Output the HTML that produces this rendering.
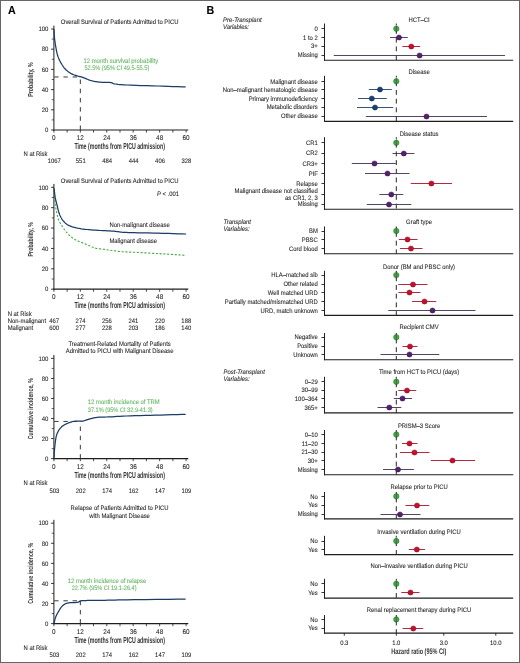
<!DOCTYPE html>
<html><head><meta charset="utf-8"><style>
html,body{margin:0;padding:0;background:#fff;}
body{width:520px;height:663px;overflow:hidden;}
svg{display:block;font-family:"Liberation Sans", sans-serif;filter:blur(0.32px);text-rendering:geometricPrecision;}
</style></head><body>
<svg width="520" height="663" viewBox="0 0 520 663">
<rect x="0" y="0" width="520" height="663" fill="#fff"/>
<text transform="translate(119.60 23.51) scale(0.92 1)" font-size="6.41" fill="#262626" stroke="#262626" stroke-width="0.08" text-anchor="middle" >Overall Survival of Patients Admitted to PICU</text>
<line x1="53.90" y1="25.60" x2="53.90" y2="130.50" stroke="#1e1e1e" stroke-width="1.0" />
<line x1="51.10" y1="130.00" x2="53.90" y2="130.00" stroke="#1e1e1e" stroke-width="0.9" />
<text transform="translate(48.40 132.24) scale(0.92 1)" font-size="6.52" fill="#262626" stroke="#262626" stroke-width="0.08" text-anchor="end" >0</text>
<line x1="51.70" y1="119.90" x2="53.90" y2="119.90" stroke="#1e1e1e" stroke-width="0.7" />
<line x1="51.10" y1="109.80" x2="53.90" y2="109.80" stroke="#1e1e1e" stroke-width="0.9" />
<text transform="translate(48.40 112.04) scale(0.92 1)" font-size="6.52" fill="#262626" stroke="#262626" stroke-width="0.08" text-anchor="end" >20</text>
<line x1="51.70" y1="99.70" x2="53.90" y2="99.70" stroke="#1e1e1e" stroke-width="0.7" />
<line x1="51.10" y1="89.60" x2="53.90" y2="89.60" stroke="#1e1e1e" stroke-width="0.9" />
<text transform="translate(48.40 91.84) scale(0.92 1)" font-size="6.52" fill="#262626" stroke="#262626" stroke-width="0.08" text-anchor="end" >40</text>
<line x1="51.70" y1="79.50" x2="53.90" y2="79.50" stroke="#1e1e1e" stroke-width="0.7" />
<line x1="51.10" y1="69.40" x2="53.90" y2="69.40" stroke="#1e1e1e" stroke-width="0.9" />
<text transform="translate(48.40 71.64) scale(0.92 1)" font-size="6.52" fill="#262626" stroke="#262626" stroke-width="0.08" text-anchor="end" >60</text>
<line x1="51.70" y1="59.30" x2="53.90" y2="59.30" stroke="#1e1e1e" stroke-width="0.7" />
<line x1="51.10" y1="49.20" x2="53.90" y2="49.20" stroke="#1e1e1e" stroke-width="0.9" />
<text transform="translate(48.40 51.44) scale(0.92 1)" font-size="6.52" fill="#262626" stroke="#262626" stroke-width="0.08" text-anchor="end" >80</text>
<line x1="51.70" y1="39.10" x2="53.90" y2="39.10" stroke="#1e1e1e" stroke-width="0.7" />
<line x1="51.10" y1="29.00" x2="53.90" y2="29.00" stroke="#1e1e1e" stroke-width="0.9" />
<text transform="translate(48.40 31.24) scale(0.92 1)" font-size="6.52" fill="#262626" stroke="#262626" stroke-width="0.08" text-anchor="end" >100</text>
<line x1="53.40" y1="130.00" x2="188.28" y2="130.00" stroke="#1e1e1e" stroke-width="1.2" />
<line x1="53.90" y1="130.00" x2="53.90" y2="132.60" stroke="#1e1e1e" stroke-width="0.8" />
<text transform="translate(53.90 140.39) scale(0.92 1)" font-size="6.96" fill="#262626" stroke="#262626" stroke-width="0.08" text-anchor="middle" >0</text>
<line x1="67.12" y1="130.00" x2="67.12" y2="132.60" stroke="#1e1e1e" stroke-width="0.8" />
<line x1="80.34" y1="130.00" x2="80.34" y2="132.60" stroke="#1e1e1e" stroke-width="0.8" />
<text transform="translate(80.34 140.39) scale(0.92 1)" font-size="6.96" fill="#262626" stroke="#262626" stroke-width="0.08" text-anchor="middle" >12</text>
<line x1="93.55" y1="130.00" x2="93.55" y2="132.60" stroke="#1e1e1e" stroke-width="0.8" />
<line x1="106.77" y1="130.00" x2="106.77" y2="132.60" stroke="#1e1e1e" stroke-width="0.8" />
<text transform="translate(106.77 140.39) scale(0.92 1)" font-size="6.96" fill="#262626" stroke="#262626" stroke-width="0.08" text-anchor="middle" >24</text>
<line x1="119.99" y1="130.00" x2="119.99" y2="132.60" stroke="#1e1e1e" stroke-width="0.8" />
<line x1="133.21" y1="130.00" x2="133.21" y2="132.60" stroke="#1e1e1e" stroke-width="0.8" />
<text transform="translate(133.21 140.39) scale(0.92 1)" font-size="6.96" fill="#262626" stroke="#262626" stroke-width="0.08" text-anchor="middle" >36</text>
<line x1="146.43" y1="130.00" x2="146.43" y2="132.60" stroke="#1e1e1e" stroke-width="0.8" />
<line x1="159.64" y1="130.00" x2="159.64" y2="132.60" stroke="#1e1e1e" stroke-width="0.8" />
<text transform="translate(159.64 140.39) scale(0.92 1)" font-size="6.96" fill="#262626" stroke="#262626" stroke-width="0.08" text-anchor="middle" >48</text>
<line x1="172.86" y1="130.00" x2="172.86" y2="132.60" stroke="#1e1e1e" stroke-width="0.8" />
<line x1="186.08" y1="130.00" x2="186.08" y2="132.60" stroke="#1e1e1e" stroke-width="0.8" />
<text transform="translate(186.08 140.39) scale(0.92 1)" font-size="6.96" fill="#262626" stroke="#262626" stroke-width="0.08" text-anchor="middle" >60</text>
<text x="119.64" y="148.86" font-size="8.6" font-weight="bold" fill="#333" text-anchor="middle" textLength="90.5" lengthAdjust="spacingAndGlyphs">Time (months from PICU admission)</text>
<text transform="translate(32.70 79.50) rotate(-90)" x="0" y="0" font-size="7.3" font-weight="bold" fill="#333" text-anchor="middle" textLength="34.4" lengthAdjust="spacingAndGlyphs">Probability, %</text>
<line x1="54.20" y1="76.97" x2="82.34" y2="76.97" stroke="#383838" stroke-width="1.0" stroke-dasharray="4.4 4.8"/>
<line x1="80.34" y1="130.00" x2="80.34" y2="76.97" stroke="#383838" stroke-width="1.0" stroke-dasharray="4.5 4.7"/>
<path d="M54.00,29.60 L54.06,30.61 L54.13,32.03 L54.23,33.69 L54.33,35.47 L54.46,37.22 L54.60,38.80 L54.76,40.21 L54.94,41.58 L55.13,42.92 L55.34,44.24 L55.56,45.56 L55.80,46.90 L56.04,48.26 L56.29,49.64 L56.54,51.02 L56.83,52.39 L57.14,53.72 L57.50,55.00 L57.89,56.22 L58.31,57.39 L58.77,58.53 L59.26,59.64 L59.80,60.76 L60.40,61.90 L61.05,63.08 L61.76,64.29 L62.52,65.49 L63.31,66.67 L64.14,67.78 L65.00,68.80 L65.90,69.73 L66.85,70.59 L67.83,71.39 L68.83,72.12 L69.83,72.79 L70.80,73.40 L71.77,73.93 L72.75,74.38 L73.72,74.76 L74.69,75.10 L75.61,75.41 L76.50,75.70 L77.34,75.96 L78.16,76.18 L78.94,76.37 L79.69,76.54 L80.41,76.71 L81.10,76.90 L81.72,77.09 L82.26,77.26 L82.78,77.43 L83.30,77.62 L83.90,77.84 L84.60,78.10 L85.43,78.43 L86.37,78.82 L87.36,79.24 L88.39,79.67 L89.41,80.06 L90.40,80.40 L91.35,80.68 L92.30,80.93 L93.25,81.16 L94.20,81.36 L95.15,81.54 L96.10,81.70 L97.06,81.85 L98.01,81.97 L98.97,82.08 L99.94,82.16 L100.91,82.24 L101.90,82.30 L102.93,82.34 L104.01,82.36 L105.09,82.37 L106.15,82.37 L107.13,82.38 L108.00,82.40 L108.73,82.43 L109.34,82.45 L109.89,82.47 L110.40,82.52 L110.92,82.59 L111.50,82.70 L112.04,82.86 L112.49,83.07 L112.94,83.31 L113.51,83.55 L114.30,83.79 L115.40,84.00 L116.67,84.18 L117.99,84.36 L119.53,84.52 L121.43,84.68 L123.87,84.84 L127.00,85.00 L131.05,85.17 L135.94,85.34 L141.36,85.51 L147.00,85.67 L152.55,85.84 L157.70,86.00 L162.79,86.17 L168.12,86.34 L173.37,86.51 L178.19,86.67 L182.25,86.80 L185.20,86.90" fill="none" stroke="#1c3b66" stroke-width="1.25" stroke-linejoin="round" stroke-linecap="round"/>
<text transform="translate(83.50 62.61) scale(0.92 1)" font-size="6.41" fill="#60b560" stroke="#60b560" stroke-width="0.08" >12 month survival probability</text>
<text transform="translate(84.40 70.01) scale(0.92 1)" font-size="6.41" fill="#60b560" stroke="#60b560" stroke-width="0.08" textLength="70.5" lengthAdjust="spacingAndGlyphs">52.5% (95% CI 49.5-55.5)</text>
<text transform="translate(23.50 156.01) scale(0.92 1)" font-size="6.41" fill="#262626" stroke="#262626" stroke-width="0.08" >N at Risk</text>
<text transform="translate(54.30 162.71) scale(0.92 1)" font-size="6.41" fill="#262626" stroke="#262626" stroke-width="0.08" text-anchor="middle" >1067</text>
<text transform="translate(80.74 162.71) scale(0.92 1)" font-size="6.41" fill="#262626" stroke="#262626" stroke-width="0.08" text-anchor="middle" >551</text>
<text transform="translate(107.17 162.71) scale(0.92 1)" font-size="6.41" fill="#262626" stroke="#262626" stroke-width="0.08" text-anchor="middle" >484</text>
<text transform="translate(133.61 162.71) scale(0.92 1)" font-size="6.41" fill="#262626" stroke="#262626" stroke-width="0.08" text-anchor="middle" >444</text>
<text transform="translate(160.04 162.71) scale(0.92 1)" font-size="6.41" fill="#262626" stroke="#262626" stroke-width="0.08" text-anchor="middle" >406</text>
<text transform="translate(186.48 162.71) scale(0.92 1)" font-size="6.41" fill="#262626" stroke="#262626" stroke-width="0.08" text-anchor="middle" >328</text>
<text transform="translate(119.60 182.51) scale(0.92 1)" font-size="6.41" fill="#262626" stroke="#262626" stroke-width="0.08" text-anchor="middle" >Overall Survival of Patients Admitted to PICU</text>
<line x1="53.90" y1="183.90" x2="53.90" y2="289.70" stroke="#1e1e1e" stroke-width="1.0" />
<line x1="51.10" y1="289.20" x2="53.90" y2="289.20" stroke="#1e1e1e" stroke-width="0.9" />
<text transform="translate(48.40 291.44) scale(0.92 1)" font-size="6.52" fill="#262626" stroke="#262626" stroke-width="0.08" text-anchor="end" >0</text>
<line x1="51.70" y1="279.01" x2="53.90" y2="279.01" stroke="#1e1e1e" stroke-width="0.7" />
<line x1="51.10" y1="268.82" x2="53.90" y2="268.82" stroke="#1e1e1e" stroke-width="0.9" />
<text transform="translate(48.40 271.06) scale(0.92 1)" font-size="6.52" fill="#262626" stroke="#262626" stroke-width="0.08" text-anchor="end" >20</text>
<line x1="51.70" y1="258.63" x2="53.90" y2="258.63" stroke="#1e1e1e" stroke-width="0.7" />
<line x1="51.10" y1="248.44" x2="53.90" y2="248.44" stroke="#1e1e1e" stroke-width="0.9" />
<text transform="translate(48.40 250.68) scale(0.92 1)" font-size="6.52" fill="#262626" stroke="#262626" stroke-width="0.08" text-anchor="end" >40</text>
<line x1="51.70" y1="238.25" x2="53.90" y2="238.25" stroke="#1e1e1e" stroke-width="0.7" />
<line x1="51.10" y1="228.06" x2="53.90" y2="228.06" stroke="#1e1e1e" stroke-width="0.9" />
<text transform="translate(48.40 230.30) scale(0.92 1)" font-size="6.52" fill="#262626" stroke="#262626" stroke-width="0.08" text-anchor="end" >60</text>
<line x1="51.70" y1="217.87" x2="53.90" y2="217.87" stroke="#1e1e1e" stroke-width="0.7" />
<line x1="51.10" y1="207.68" x2="53.90" y2="207.68" stroke="#1e1e1e" stroke-width="0.9" />
<text transform="translate(48.40 209.92) scale(0.92 1)" font-size="6.52" fill="#262626" stroke="#262626" stroke-width="0.08" text-anchor="end" >80</text>
<line x1="51.70" y1="197.49" x2="53.90" y2="197.49" stroke="#1e1e1e" stroke-width="0.7" />
<line x1="51.10" y1="187.30" x2="53.90" y2="187.30" stroke="#1e1e1e" stroke-width="0.9" />
<text transform="translate(48.40 189.54) scale(0.92 1)" font-size="6.52" fill="#262626" stroke="#262626" stroke-width="0.08" text-anchor="end" >100</text>
<line x1="53.40" y1="289.20" x2="188.28" y2="289.20" stroke="#1e1e1e" stroke-width="1.2" />
<line x1="53.90" y1="289.20" x2="53.90" y2="291.80" stroke="#1e1e1e" stroke-width="0.8" />
<text transform="translate(53.90 299.39) scale(0.92 1)" font-size="6.96" fill="#262626" stroke="#262626" stroke-width="0.08" text-anchor="middle" >0</text>
<line x1="67.12" y1="289.20" x2="67.12" y2="291.80" stroke="#1e1e1e" stroke-width="0.8" />
<line x1="80.34" y1="289.20" x2="80.34" y2="291.80" stroke="#1e1e1e" stroke-width="0.8" />
<text transform="translate(80.34 299.39) scale(0.92 1)" font-size="6.96" fill="#262626" stroke="#262626" stroke-width="0.08" text-anchor="middle" >12</text>
<line x1="93.55" y1="289.20" x2="93.55" y2="291.80" stroke="#1e1e1e" stroke-width="0.8" />
<line x1="106.77" y1="289.20" x2="106.77" y2="291.80" stroke="#1e1e1e" stroke-width="0.8" />
<text transform="translate(106.77 299.39) scale(0.92 1)" font-size="6.96" fill="#262626" stroke="#262626" stroke-width="0.08" text-anchor="middle" >24</text>
<line x1="119.99" y1="289.20" x2="119.99" y2="291.80" stroke="#1e1e1e" stroke-width="0.8" />
<line x1="133.21" y1="289.20" x2="133.21" y2="291.80" stroke="#1e1e1e" stroke-width="0.8" />
<text transform="translate(133.21 299.39) scale(0.92 1)" font-size="6.96" fill="#262626" stroke="#262626" stroke-width="0.08" text-anchor="middle" >36</text>
<line x1="146.43" y1="289.20" x2="146.43" y2="291.80" stroke="#1e1e1e" stroke-width="0.8" />
<line x1="159.64" y1="289.20" x2="159.64" y2="291.80" stroke="#1e1e1e" stroke-width="0.8" />
<text transform="translate(159.64 299.39) scale(0.92 1)" font-size="6.96" fill="#262626" stroke="#262626" stroke-width="0.08" text-anchor="middle" >48</text>
<line x1="172.86" y1="289.20" x2="172.86" y2="291.80" stroke="#1e1e1e" stroke-width="0.8" />
<line x1="186.08" y1="289.20" x2="186.08" y2="291.80" stroke="#1e1e1e" stroke-width="0.8" />
<text transform="translate(186.08 299.39) scale(0.92 1)" font-size="6.96" fill="#262626" stroke="#262626" stroke-width="0.08" text-anchor="middle" >60</text>
<text x="119.64" y="308.11" font-size="8.6" font-weight="bold" fill="#333" text-anchor="middle" textLength="90.5" lengthAdjust="spacingAndGlyphs">Time (months from PICU admission)</text>
<text transform="translate(32.70 239.20) rotate(-90)" x="0" y="0" font-size="7.3" font-weight="bold" fill="#333" text-anchor="middle" textLength="34.4" lengthAdjust="spacingAndGlyphs">Probability, %</text>
<path d="M54.00,188.50 L54.08,189.79 L54.20,191.61 L54.34,193.75 L54.49,196.00 L54.65,198.15 L54.80,200.00 L54.94,201.51 L55.07,202.84 L55.21,204.07 L55.36,205.29 L55.56,206.57 L55.80,208.00 L56.11,209.66 L56.47,211.49 L56.86,213.38 L57.28,215.24 L57.70,216.95 L58.10,218.40 L58.45,219.51 L58.75,220.35 L59.06,221.04 L59.41,221.71 L59.88,222.49 L60.50,223.50 L61.31,224.81 L62.26,226.32 L63.32,227.94 L64.45,229.57 L65.59,231.12 L66.70,232.50 L67.80,233.72 L68.93,234.85 L70.07,235.91 L71.22,236.88 L72.37,237.78 L73.50,238.60 L74.62,239.32 L75.74,239.93 L76.86,240.46 L77.97,240.95 L79.08,241.42 L80.20,241.90 L81.30,242.38 L82.38,242.82 L83.46,243.24 L84.56,243.67 L85.70,244.12 L86.90,244.60 L88.17,245.15 L89.50,245.76 L90.86,246.39 L92.25,247.00 L93.63,247.55 L95.00,248.00 L96.32,248.32 L97.60,248.55 L98.89,248.72 L100.21,248.86 L101.60,249.01 L103.10,249.20 L104.78,249.44 L106.62,249.70 L108.53,249.97 L110.43,250.23 L112.21,250.48 L113.80,250.70 L115.13,250.89 L116.26,251.06 L117.28,251.21 L118.29,251.35 L119.36,251.48 L120.60,251.60 L121.96,251.70 L123.36,251.79 L124.83,251.86 L126.41,251.93 L128.12,252.01 L130.00,252.10 L132.05,252.20 L134.23,252.30 L136.56,252.41 L139.01,252.53 L141.59,252.66 L144.30,252.80 L147.15,252.96 L150.15,253.13 L153.28,253.31 L156.51,253.50 L159.83,253.69 L163.20,253.90 L166.92,254.13 L171.06,254.40 L175.28,254.67 L179.24,254.93 L182.59,255.14 L185.00,255.30" fill="none" stroke="#45ab45" stroke-width="1.15" stroke-dasharray="2.1 1.7"/>
<path d="M54.00,188.50 L54.07,188.99 L54.16,189.66 L54.26,190.46 L54.38,191.32 L54.49,192.19 L54.60,193.00 L54.69,193.75 L54.76,194.47 L54.83,195.20 L54.92,195.96 L55.04,196.79 L55.20,197.70 L55.42,198.72 L55.69,199.84 L55.98,201.01 L56.29,202.22 L56.60,203.42 L56.90,204.60 L57.18,205.77 L57.46,206.97 L57.74,208.17 L58.02,209.34 L58.31,210.46 L58.60,211.50 L58.89,212.45 L59.18,213.33 L59.48,214.15 L59.79,214.94 L60.12,215.72 L60.50,216.50 L60.90,217.28 L61.33,218.05 L61.78,218.81 L62.26,219.55 L62.80,220.28 L63.40,221.00 L64.04,221.72 L64.71,222.45 L65.42,223.16 L66.21,223.85 L67.10,224.50 L68.10,225.10 L69.22,225.64 L70.45,226.14 L71.78,226.60 L73.18,227.03 L74.66,227.42 L76.20,227.80 L77.80,228.15 L79.47,228.47 L81.21,228.76 L83.03,229.02 L84.92,229.27 L86.90,229.50 L88.99,229.71 L91.20,229.90 L93.48,230.06 L95.80,230.21 L98.12,230.36 L100.40,230.50 L102.70,230.63 L105.07,230.74 L107.44,230.85 L109.73,230.96 L111.87,231.07 L113.80,231.20 L115.45,231.36 L116.86,231.53 L118.12,231.72 L119.33,231.90 L120.56,232.06 L121.90,232.20 L123.14,232.30 L124.17,232.37 L125.23,232.42 L126.54,232.47 L128.35,232.53 L130.90,232.60 L134.34,232.69 L138.51,232.78 L143.18,232.88 L148.10,232.98 L153.06,233.09 L157.80,233.20 L162.70,233.33 L168.03,233.48 L173.38,233.64 L178.36,233.79 L182.57,233.91 L185.60,234.00" fill="none" stroke="#1c3b66" stroke-width="1.25" stroke-linejoin="round" stroke-linecap="round"/>
<text transform="translate(109.40 226.61) scale(0.92 1)" font-size="6.41" fill="#262626" stroke="#262626" stroke-width="0.08" >Non-malignant disease</text>
<text transform="translate(109.40 243.21) scale(0.92 1)" font-size="6.41" fill="#262626" stroke="#262626" stroke-width="0.08" >Malignant disease</text>
<text transform="translate(7.70 315.51) scale(0.92 1)" font-size="6.41" fill="#262626" stroke="#262626" stroke-width="0.08" >N at Risk</text>
<text transform="translate(7.70 322.81) scale(0.92 1)" font-size="6.41" fill="#262626" stroke="#262626" stroke-width="0.08" >Non-malignant</text>
<text transform="translate(7.70 329.51) scale(0.92 1)" font-size="6.41" fill="#262626" stroke="#262626" stroke-width="0.08" >Malignant</text>
<text transform="translate(54.10 322.81) scale(0.92 1)" font-size="6.41" fill="#262626" stroke="#262626" stroke-width="0.08" text-anchor="middle" >467</text>
<text transform="translate(80.54 322.81) scale(0.92 1)" font-size="6.41" fill="#262626" stroke="#262626" stroke-width="0.08" text-anchor="middle" >274</text>
<text transform="translate(106.97 322.81) scale(0.92 1)" font-size="6.41" fill="#262626" stroke="#262626" stroke-width="0.08" text-anchor="middle" >256</text>
<text transform="translate(133.41 322.81) scale(0.92 1)" font-size="6.41" fill="#262626" stroke="#262626" stroke-width="0.08" text-anchor="middle" >241</text>
<text transform="translate(159.84 322.81) scale(0.92 1)" font-size="6.41" fill="#262626" stroke="#262626" stroke-width="0.08" text-anchor="middle" >220</text>
<text transform="translate(186.28 322.81) scale(0.92 1)" font-size="6.41" fill="#262626" stroke="#262626" stroke-width="0.08" text-anchor="middle" >188</text>
<text transform="translate(54.10 329.51) scale(0.92 1)" font-size="6.41" fill="#262626" stroke="#262626" stroke-width="0.08" text-anchor="middle" >600</text>
<text transform="translate(80.54 329.51) scale(0.92 1)" font-size="6.41" fill="#262626" stroke="#262626" stroke-width="0.08" text-anchor="middle" >277</text>
<text transform="translate(106.97 329.51) scale(0.92 1)" font-size="6.41" fill="#262626" stroke="#262626" stroke-width="0.08" text-anchor="middle" >228</text>
<text transform="translate(133.41 329.51) scale(0.92 1)" font-size="6.41" fill="#262626" stroke="#262626" stroke-width="0.08" text-anchor="middle" >203</text>
<text transform="translate(159.84 329.51) scale(0.92 1)" font-size="6.41" fill="#262626" stroke="#262626" stroke-width="0.08" text-anchor="middle" >186</text>
<text transform="translate(186.28 329.51) scale(0.92 1)" font-size="6.41" fill="#262626" stroke="#262626" stroke-width="0.08" text-anchor="middle" >140</text>
<text transform="translate(157.00 196.41) scale(0.92 1)" font-size="6.41" fill="#262626" stroke="#262626" stroke-width="0.08" ><tspan font-style="italic">P</tspan> &lt; .001</text>
<text transform="translate(119.60 345.71) scale(0.92 1)" font-size="6.41" fill="#262626" stroke="#262626" stroke-width="0.08" text-anchor="middle" >Treatment-Related Mortality of Patients</text>
<text transform="translate(119.60 352.91) scale(0.92 1)" font-size="6.41" fill="#262626" stroke="#262626" stroke-width="0.08" text-anchor="middle" >Admitted to PICU with Malignant Disease</text>
<line x1="53.90" y1="355.00" x2="53.90" y2="459.10" stroke="#1e1e1e" stroke-width="1.0" />
<line x1="51.10" y1="458.60" x2="53.90" y2="458.60" stroke="#1e1e1e" stroke-width="0.9" />
<text transform="translate(48.40 460.84) scale(0.92 1)" font-size="6.52" fill="#262626" stroke="#262626" stroke-width="0.08" text-anchor="end" >0</text>
<line x1="51.70" y1="448.58" x2="53.90" y2="448.58" stroke="#1e1e1e" stroke-width="0.7" />
<line x1="51.10" y1="438.56" x2="53.90" y2="438.56" stroke="#1e1e1e" stroke-width="0.9" />
<text transform="translate(48.40 440.80) scale(0.92 1)" font-size="6.52" fill="#262626" stroke="#262626" stroke-width="0.08" text-anchor="end" >20</text>
<line x1="51.70" y1="428.54" x2="53.90" y2="428.54" stroke="#1e1e1e" stroke-width="0.7" />
<line x1="51.10" y1="418.52" x2="53.90" y2="418.52" stroke="#1e1e1e" stroke-width="0.9" />
<text transform="translate(48.40 420.76) scale(0.92 1)" font-size="6.52" fill="#262626" stroke="#262626" stroke-width="0.08" text-anchor="end" >40</text>
<line x1="51.70" y1="408.50" x2="53.90" y2="408.50" stroke="#1e1e1e" stroke-width="0.7" />
<line x1="51.10" y1="398.48" x2="53.90" y2="398.48" stroke="#1e1e1e" stroke-width="0.9" />
<text transform="translate(48.40 400.72) scale(0.92 1)" font-size="6.52" fill="#262626" stroke="#262626" stroke-width="0.08" text-anchor="end" >60</text>
<line x1="51.70" y1="388.46" x2="53.90" y2="388.46" stroke="#1e1e1e" stroke-width="0.7" />
<line x1="51.10" y1="378.44" x2="53.90" y2="378.44" stroke="#1e1e1e" stroke-width="0.9" />
<text transform="translate(48.40 380.68) scale(0.92 1)" font-size="6.52" fill="#262626" stroke="#262626" stroke-width="0.08" text-anchor="end" >80</text>
<line x1="51.70" y1="368.42" x2="53.90" y2="368.42" stroke="#1e1e1e" stroke-width="0.7" />
<line x1="51.10" y1="358.40" x2="53.90" y2="358.40" stroke="#1e1e1e" stroke-width="0.9" />
<text transform="translate(48.40 360.64) scale(0.92 1)" font-size="6.52" fill="#262626" stroke="#262626" stroke-width="0.08" text-anchor="end" >100</text>
<line x1="53.40" y1="458.60" x2="188.28" y2="458.60" stroke="#1e1e1e" stroke-width="1.2" />
<line x1="53.90" y1="458.60" x2="53.90" y2="461.20" stroke="#1e1e1e" stroke-width="0.8" />
<text transform="translate(53.90 469.29) scale(0.92 1)" font-size="6.96" fill="#262626" stroke="#262626" stroke-width="0.08" text-anchor="middle" >0</text>
<line x1="67.12" y1="458.60" x2="67.12" y2="461.20" stroke="#1e1e1e" stroke-width="0.8" />
<line x1="80.34" y1="458.60" x2="80.34" y2="461.20" stroke="#1e1e1e" stroke-width="0.8" />
<text transform="translate(80.34 469.29) scale(0.92 1)" font-size="6.96" fill="#262626" stroke="#262626" stroke-width="0.08" text-anchor="middle" >12</text>
<line x1="93.55" y1="458.60" x2="93.55" y2="461.20" stroke="#1e1e1e" stroke-width="0.8" />
<line x1="106.77" y1="458.60" x2="106.77" y2="461.20" stroke="#1e1e1e" stroke-width="0.8" />
<text transform="translate(106.77 469.29) scale(0.92 1)" font-size="6.96" fill="#262626" stroke="#262626" stroke-width="0.08" text-anchor="middle" >24</text>
<line x1="119.99" y1="458.60" x2="119.99" y2="461.20" stroke="#1e1e1e" stroke-width="0.8" />
<line x1="133.21" y1="458.60" x2="133.21" y2="461.20" stroke="#1e1e1e" stroke-width="0.8" />
<text transform="translate(133.21 469.29) scale(0.92 1)" font-size="6.96" fill="#262626" stroke="#262626" stroke-width="0.08" text-anchor="middle" >36</text>
<line x1="146.43" y1="458.60" x2="146.43" y2="461.20" stroke="#1e1e1e" stroke-width="0.8" />
<line x1="159.64" y1="458.60" x2="159.64" y2="461.20" stroke="#1e1e1e" stroke-width="0.8" />
<text transform="translate(159.64 469.29) scale(0.92 1)" font-size="6.96" fill="#262626" stroke="#262626" stroke-width="0.08" text-anchor="middle" >48</text>
<line x1="172.86" y1="458.60" x2="172.86" y2="461.20" stroke="#1e1e1e" stroke-width="0.8" />
<line x1="186.08" y1="458.60" x2="186.08" y2="461.20" stroke="#1e1e1e" stroke-width="0.8" />
<text transform="translate(186.08 469.29) scale(0.92 1)" font-size="6.96" fill="#262626" stroke="#262626" stroke-width="0.08" text-anchor="middle" >60</text>
<text x="119.64" y="477.96" font-size="8.6" font-weight="bold" fill="#333" text-anchor="middle" textLength="90.5" lengthAdjust="spacingAndGlyphs">Time (months from PICU admission)</text>
<text transform="translate(33.30 408.70) rotate(-90)" x="0" y="0" font-size="7.3" font-weight="bold" fill="#333" text-anchor="middle" textLength="61.0" lengthAdjust="spacingAndGlyphs">Cumulative incidence, %</text>
<line x1="54.20" y1="421.43" x2="82.34" y2="421.43" stroke="#383838" stroke-width="1.0" stroke-dasharray="4.4 4.8"/>
<line x1="80.34" y1="458.60" x2="80.34" y2="421.43" stroke="#383838" stroke-width="1.0" stroke-dasharray="4.5 4.7"/>
<path d="M54.00,458.60 L54.04,457.79 L54.09,456.68 L54.15,455.36 L54.22,453.92 L54.31,452.47 L54.40,451.10 L54.51,449.77 L54.63,448.40 L54.76,447.01 L54.90,445.63 L55.04,444.29 L55.20,443.00 L55.36,441.75 L55.52,440.53 L55.69,439.33 L55.87,438.19 L56.07,437.10 L56.30,436.10 L56.55,435.19 L56.83,434.35 L57.12,433.58 L57.44,432.86 L57.76,432.17 L58.10,431.50 L58.44,430.86 L58.79,430.26 L59.15,429.69 L59.53,429.15 L59.95,428.62 L60.40,428.10 L60.89,427.58 L61.40,427.07 L61.95,426.58 L62.53,426.10 L63.15,425.64 L63.80,425.20 L64.51,424.77 L65.27,424.36 L66.08,423.96 L66.89,423.58 L67.71,423.22 L68.50,422.90 L69.27,422.60 L70.04,422.33 L70.81,422.08 L71.57,421.86 L72.33,421.67 L73.10,421.50 L73.87,421.37 L74.63,421.28 L75.40,421.21 L76.17,421.17 L76.93,421.13 L77.70,421.10 L78.49,421.08 L79.32,421.09 L80.14,421.11 L80.94,421.12 L81.67,421.12 L82.30,421.10 L82.79,421.06 L83.15,421.01 L83.45,420.94 L83.75,420.86 L84.11,420.75 L84.60,420.60 L85.22,420.41 L85.92,420.17 L86.68,419.91 L87.49,419.63 L88.34,419.36 L89.20,419.10 L90.10,418.85 L91.04,418.60 L92.03,418.34 L93.02,418.10 L94.02,417.89 L95.00,417.70 L95.93,417.55 L96.81,417.43 L97.69,417.32 L98.61,417.24 L99.64,417.17 L100.80,417.10 L102.05,417.05 L103.34,417.03 L104.73,417.02 L106.27,417.00 L108.00,416.97 L110.00,416.90 L112.19,416.79 L114.50,416.65 L117.03,416.49 L119.82,416.32 L122.95,416.15 L126.50,416.00 L130.58,415.86 L135.15,415.73 L140.06,415.60 L145.16,415.47 L150.29,415.34 L155.30,415.20 L160.57,415.05 L166.29,414.87 L172.05,414.70 L177.41,414.54 L181.93,414.40 L185.20,414.30" fill="none" stroke="#1c3b66" stroke-width="1.25" stroke-linejoin="round" stroke-linecap="round"/>
<text transform="translate(87.80 404.21) scale(0.92 1)" font-size="6.41" fill="#60b560" stroke="#60b560" stroke-width="0.08" >12 month incidence of TRM</text>
<text transform="translate(87.80 411.61) scale(0.92 1)" font-size="6.41" fill="#60b560" stroke="#60b560" stroke-width="0.08" textLength="70.5" lengthAdjust="spacingAndGlyphs">37.1% (95% CI 32.9-41.3)</text>
<text transform="translate(23.50 485.11) scale(0.92 1)" font-size="6.41" fill="#262626" stroke="#262626" stroke-width="0.08" >N at Risk</text>
<text transform="translate(54.30 492.51) scale(0.92 1)" font-size="6.41" fill="#262626" stroke="#262626" stroke-width="0.08" text-anchor="middle" >503</text>
<text transform="translate(80.74 492.51) scale(0.92 1)" font-size="6.41" fill="#262626" stroke="#262626" stroke-width="0.08" text-anchor="middle" >202</text>
<text transform="translate(107.17 492.51) scale(0.92 1)" font-size="6.41" fill="#262626" stroke="#262626" stroke-width="0.08" text-anchor="middle" >174</text>
<text transform="translate(133.61 492.51) scale(0.92 1)" font-size="6.41" fill="#262626" stroke="#262626" stroke-width="0.08" text-anchor="middle" >162</text>
<text transform="translate(160.04 492.51) scale(0.92 1)" font-size="6.41" fill="#262626" stroke="#262626" stroke-width="0.08" text-anchor="middle" >147</text>
<text transform="translate(186.48 492.51) scale(0.92 1)" font-size="6.41" fill="#262626" stroke="#262626" stroke-width="0.08" text-anchor="middle" >109</text>
<text transform="translate(119.60 509.71) scale(0.92 1)" font-size="6.41" fill="#262626" stroke="#262626" stroke-width="0.08" text-anchor="middle" >Relapse of Patients Admitted to PICU</text>
<text transform="translate(119.60 517.61) scale(0.92 1)" font-size="6.41" fill="#262626" stroke="#262626" stroke-width="0.08" text-anchor="middle" >with Malignant Disease</text>
<line x1="53.90" y1="519.80" x2="53.90" y2="624.10" stroke="#1e1e1e" stroke-width="1.0" />
<line x1="51.10" y1="623.60" x2="53.90" y2="623.60" stroke="#1e1e1e" stroke-width="0.9" />
<text transform="translate(48.40 625.84) scale(0.92 1)" font-size="6.52" fill="#262626" stroke="#262626" stroke-width="0.08" text-anchor="end" >0</text>
<line x1="51.70" y1="613.56" x2="53.90" y2="613.56" stroke="#1e1e1e" stroke-width="0.7" />
<line x1="51.10" y1="603.52" x2="53.90" y2="603.52" stroke="#1e1e1e" stroke-width="0.9" />
<text transform="translate(48.40 605.76) scale(0.92 1)" font-size="6.52" fill="#262626" stroke="#262626" stroke-width="0.08" text-anchor="end" >20</text>
<line x1="51.70" y1="593.48" x2="53.90" y2="593.48" stroke="#1e1e1e" stroke-width="0.7" />
<line x1="51.10" y1="583.44" x2="53.90" y2="583.44" stroke="#1e1e1e" stroke-width="0.9" />
<text transform="translate(48.40 585.68) scale(0.92 1)" font-size="6.52" fill="#262626" stroke="#262626" stroke-width="0.08" text-anchor="end" >40</text>
<line x1="51.70" y1="573.40" x2="53.90" y2="573.40" stroke="#1e1e1e" stroke-width="0.7" />
<line x1="51.10" y1="563.36" x2="53.90" y2="563.36" stroke="#1e1e1e" stroke-width="0.9" />
<text transform="translate(48.40 565.60) scale(0.92 1)" font-size="6.52" fill="#262626" stroke="#262626" stroke-width="0.08" text-anchor="end" >60</text>
<line x1="51.70" y1="553.32" x2="53.90" y2="553.32" stroke="#1e1e1e" stroke-width="0.7" />
<line x1="51.10" y1="543.28" x2="53.90" y2="543.28" stroke="#1e1e1e" stroke-width="0.9" />
<text transform="translate(48.40 545.52) scale(0.92 1)" font-size="6.52" fill="#262626" stroke="#262626" stroke-width="0.08" text-anchor="end" >80</text>
<line x1="51.70" y1="533.24" x2="53.90" y2="533.24" stroke="#1e1e1e" stroke-width="0.7" />
<line x1="51.10" y1="523.20" x2="53.90" y2="523.20" stroke="#1e1e1e" stroke-width="0.9" />
<text transform="translate(48.40 525.44) scale(0.92 1)" font-size="6.52" fill="#262626" stroke="#262626" stroke-width="0.08" text-anchor="end" >100</text>
<line x1="53.40" y1="623.60" x2="188.28" y2="623.60" stroke="#1e1e1e" stroke-width="1.2" />
<line x1="53.90" y1="623.60" x2="53.90" y2="626.20" stroke="#1e1e1e" stroke-width="0.8" />
<text transform="translate(53.90 634.29) scale(0.92 1)" font-size="6.96" fill="#262626" stroke="#262626" stroke-width="0.08" text-anchor="middle" >0</text>
<line x1="67.12" y1="623.60" x2="67.12" y2="626.20" stroke="#1e1e1e" stroke-width="0.8" />
<line x1="80.34" y1="623.60" x2="80.34" y2="626.20" stroke="#1e1e1e" stroke-width="0.8" />
<text transform="translate(80.34 634.29) scale(0.92 1)" font-size="6.96" fill="#262626" stroke="#262626" stroke-width="0.08" text-anchor="middle" >12</text>
<line x1="93.55" y1="623.60" x2="93.55" y2="626.20" stroke="#1e1e1e" stroke-width="0.8" />
<line x1="106.77" y1="623.60" x2="106.77" y2="626.20" stroke="#1e1e1e" stroke-width="0.8" />
<text transform="translate(106.77 634.29) scale(0.92 1)" font-size="6.96" fill="#262626" stroke="#262626" stroke-width="0.08" text-anchor="middle" >24</text>
<line x1="119.99" y1="623.60" x2="119.99" y2="626.20" stroke="#1e1e1e" stroke-width="0.8" />
<line x1="133.21" y1="623.60" x2="133.21" y2="626.20" stroke="#1e1e1e" stroke-width="0.8" />
<text transform="translate(133.21 634.29) scale(0.92 1)" font-size="6.96" fill="#262626" stroke="#262626" stroke-width="0.08" text-anchor="middle" >36</text>
<line x1="146.43" y1="623.60" x2="146.43" y2="626.20" stroke="#1e1e1e" stroke-width="0.8" />
<line x1="159.64" y1="623.60" x2="159.64" y2="626.20" stroke="#1e1e1e" stroke-width="0.8" />
<text transform="translate(159.64 634.29) scale(0.92 1)" font-size="6.96" fill="#262626" stroke="#262626" stroke-width="0.08" text-anchor="middle" >48</text>
<line x1="172.86" y1="623.60" x2="172.86" y2="626.20" stroke="#1e1e1e" stroke-width="0.8" />
<line x1="186.08" y1="623.60" x2="186.08" y2="626.20" stroke="#1e1e1e" stroke-width="0.8" />
<text transform="translate(186.08 634.29) scale(0.92 1)" font-size="6.96" fill="#262626" stroke="#262626" stroke-width="0.08" text-anchor="middle" >60</text>
<text x="119.64" y="642.56" font-size="8.6" font-weight="bold" fill="#333" text-anchor="middle" textLength="90.5" lengthAdjust="spacingAndGlyphs">Time (months from PICU admission)</text>
<text transform="translate(33.30 573.30) rotate(-90)" x="0" y="0" font-size="7.3" font-weight="bold" fill="#333" text-anchor="middle" textLength="61.0" lengthAdjust="spacingAndGlyphs">Cumulative incidence, %</text>
<line x1="54.20" y1="600.81" x2="82.34" y2="600.81" stroke="#383838" stroke-width="1.0" stroke-dasharray="4.4 4.8"/>
<line x1="80.34" y1="623.60" x2="80.34" y2="600.81" stroke="#383838" stroke-width="1.0" stroke-dasharray="4.5 4.7"/>
<path d="M54.00,623.60 L54.12,623.02 L54.29,622.21 L54.49,621.25 L54.72,620.24 L54.96,619.26 L55.20,618.40 L55.45,617.66 L55.71,616.98 L55.98,616.32 L56.27,615.69 L56.58,615.05 L56.90,614.40 L57.25,613.73 L57.62,613.05 L58.01,612.37 L58.41,611.70 L58.81,611.04 L59.20,610.40 L59.57,609.78 L59.92,609.17 L60.28,608.58 L60.64,608.00 L61.05,607.44 L61.50,606.90 L62.01,606.36 L62.58,605.82 L63.17,605.30 L63.79,604.81 L64.40,604.37 L65.00,604.00 L65.57,603.70 L66.13,603.47 L66.68,603.29 L67.25,603.14 L67.85,603.02 L68.50,602.90 L69.20,602.80 L69.95,602.74 L70.73,602.70 L71.53,602.67 L72.32,602.64 L73.10,602.60 L73.89,602.56 L74.70,602.54 L75.51,602.52 L76.29,602.48 L77.03,602.41 L77.70,602.30 L78.27,602.12 L78.75,601.87 L79.19,601.60 L79.61,601.33 L80.07,601.08 L80.60,600.90 L81.12,600.79 L81.57,600.72 L82.06,600.68 L82.67,600.66 L83.49,600.64 L84.60,600.60 L86.05,600.55 L87.79,600.49 L89.73,600.44 L91.81,600.39 L93.96,600.34 L96.10,600.30 L98.25,600.28 L100.46,600.26 L102.74,600.26 L105.09,600.25 L107.51,600.23 L110.00,600.20 L112.11,600.15 L113.74,600.10 L115.45,600.04 L117.78,599.97 L121.28,599.89 L126.50,599.80 L134.52,599.69 L145.11,599.56 L156.88,599.42 L168.42,599.29 L178.33,599.18 L185.20,599.10" fill="none" stroke="#1c3b66" stroke-width="1.25" stroke-linejoin="round" stroke-linecap="round"/>
<text transform="translate(67.70 583.11) scale(0.92 1)" font-size="6.41" fill="#60b560" stroke="#60b560" stroke-width="0.08" >12 month incidence of relapse</text>
<text transform="translate(71.70 590.31) scale(0.92 1)" font-size="6.41" fill="#60b560" stroke="#60b560" stroke-width="0.08" textLength="70.5" lengthAdjust="spacingAndGlyphs">22.7% (95% CI 19.1-26.4)</text>
<text transform="translate(23.50 650.01) scale(0.92 1)" font-size="6.41" fill="#262626" stroke="#262626" stroke-width="0.08" >N at Risk</text>
<text transform="translate(54.30 656.81) scale(0.92 1)" font-size="6.41" fill="#262626" stroke="#262626" stroke-width="0.08" text-anchor="middle" >503</text>
<text transform="translate(80.74 656.81) scale(0.92 1)" font-size="6.41" fill="#262626" stroke="#262626" stroke-width="0.08" text-anchor="middle" >202</text>
<text transform="translate(107.17 656.81) scale(0.92 1)" font-size="6.41" fill="#262626" stroke="#262626" stroke-width="0.08" text-anchor="middle" >174</text>
<text transform="translate(133.61 656.81) scale(0.92 1)" font-size="6.41" fill="#262626" stroke="#262626" stroke-width="0.08" text-anchor="middle" >162</text>
<text transform="translate(160.04 656.81) scale(0.92 1)" font-size="6.41" fill="#262626" stroke="#262626" stroke-width="0.08" text-anchor="middle" >147</text>
<text transform="translate(186.48 656.81) scale(0.92 1)" font-size="6.41" fill="#262626" stroke="#262626" stroke-width="0.08" text-anchor="middle" >109</text>
<text transform="translate(8.00 14.00) scale(0.92 1)" font-size="11.63" fill="#000" stroke="#000" stroke-width="0.08" font-weight="bold" >A</text>
<text transform="translate(206.60 14.10) scale(0.92 1)" font-size="11.63" fill="#000" stroke="#000" stroke-width="0.08" font-weight="bold" >B</text>
<text transform="translate(419.05 22.41) scale(0.92 1)" font-size="6.41" fill="#262626" stroke="#262626" stroke-width="0.08" text-anchor="middle" >HCT–CI</text>
<line x1="396.30" y1="23.50" x2="396.30" y2="60.30" stroke="#262626" stroke-width="1.0" stroke-dasharray="4.9 3.8" stroke-dashoffset="3.2"/>
<line x1="324.50" y1="23.50" x2="324.50" y2="60.80" stroke="#1e1e1e" stroke-width="1.0" />
<line x1="324.00" y1="60.30" x2="513.20" y2="60.30" stroke="#1e1e1e" stroke-width="1.1" />
<line x1="321.50" y1="28.50" x2="324.50" y2="28.50" stroke="#1e1e1e" stroke-width="0.9" />
<text transform="translate(317.80 31.01) scale(0.92 1)" font-size="6.41" fill="#262626" stroke="#262626" stroke-width="0.08" text-anchor="end" >0</text>
<circle cx="396.30" cy="28.80" r="2.7" fill="#48a848" stroke="#2a6e2a" stroke-width="0.55"/>
<line x1="396.30" y1="25.20" x2="396.30" y2="32.40" stroke="#1e3a1e" stroke-width="0.9" stroke-opacity="0.55"/>
<line x1="321.50" y1="37.50" x2="324.50" y2="37.50" stroke="#1e1e1e" stroke-width="0.9" />
<text transform="translate(317.80 39.71) scale(0.92 1)" font-size="6.41" fill="#262626" stroke="#262626" stroke-width="0.08" text-anchor="end" >1 to 2</text>
<line x1="390.00" y1="37.50" x2="407.80" y2="37.50" stroke="#4d3a5c" stroke-width="0.95" />
<circle cx="399.00" cy="37.50" r="2.6" fill="#52226a" stroke="#3a1550" stroke-width="0.45"/>
<line x1="321.50" y1="46.50" x2="324.50" y2="46.50" stroke="#1e1e1e" stroke-width="0.9" />
<text transform="translate(317.80 48.46) scale(0.92 1)" font-size="6.41" fill="#262626" stroke="#262626" stroke-width="0.08" text-anchor="end" >3+</text>
<line x1="402.40" y1="46.50" x2="420.20" y2="46.50" stroke="#b01e36" stroke-width="0.95" />
<circle cx="411.30" cy="46.50" r="2.6" fill="#c0112d" stroke="#8e0a20" stroke-width="0.45"/>
<line x1="321.50" y1="55.50" x2="324.50" y2="55.50" stroke="#1e1e1e" stroke-width="0.9" />
<text transform="translate(317.80 57.21) scale(0.92 1)" font-size="6.41" fill="#262626" stroke="#262626" stroke-width="0.08" text-anchor="end" >Missing</text>
<line x1="333.80" y1="55.50" x2="505.00" y2="55.50" stroke="#4d3a5c" stroke-width="0.95" />
<circle cx="419.60" cy="55.50" r="2.6" fill="#52226a" stroke="#3a1550" stroke-width="0.45"/>
<text transform="translate(419.05 73.51) scale(0.92 1)" font-size="6.41" fill="#262626" stroke="#262626" stroke-width="0.08" text-anchor="middle" >Disease</text>
<line x1="396.30" y1="75.80" x2="396.30" y2="121.40" stroke="#262626" stroke-width="1.0" stroke-dasharray="4.9 3.8" stroke-dashoffset="3.2"/>
<line x1="324.50" y1="75.80" x2="324.50" y2="121.90" stroke="#1e1e1e" stroke-width="1.0" />
<line x1="324.00" y1="121.40" x2="513.20" y2="121.40" stroke="#1e1e1e" stroke-width="1.1" />
<line x1="321.50" y1="81.50" x2="324.50" y2="81.50" stroke="#1e1e1e" stroke-width="0.9" />
<text transform="translate(317.80 83.51) scale(0.92 1)" font-size="6.41" fill="#262626" stroke="#262626" stroke-width="0.08" text-anchor="end" >Malignant disease</text>
<circle cx="396.30" cy="81.30" r="2.7" fill="#48a848" stroke="#2a6e2a" stroke-width="0.55"/>
<line x1="396.30" y1="77.70" x2="396.30" y2="84.90" stroke="#1e3a1e" stroke-width="0.9" stroke-opacity="0.55"/>
<line x1="321.50" y1="89.50" x2="324.50" y2="89.50" stroke="#1e1e1e" stroke-width="0.9" />
<text transform="translate(317.80 92.01) scale(0.92 1)" font-size="6.41" fill="#262626" stroke="#262626" stroke-width="0.08" text-anchor="end" >Non–malignant hematologic disease</text>
<line x1="368.80" y1="89.50" x2="391.80" y2="89.50" stroke="#2c4a70" stroke-width="0.95" />
<circle cx="380.00" cy="89.50" r="2.6" fill="#1a3f72" stroke="#12305a" stroke-width="0.45"/>
<line x1="321.50" y1="98.50" x2="324.50" y2="98.50" stroke="#1e1e1e" stroke-width="0.9" />
<text transform="translate(317.80 100.71) scale(0.92 1)" font-size="6.41" fill="#262626" stroke="#262626" stroke-width="0.08" text-anchor="end" >Primary immunodeficiency</text>
<line x1="358.00" y1="98.50" x2="386.80" y2="98.50" stroke="#2c4a70" stroke-width="0.95" />
<circle cx="371.80" cy="98.50" r="2.6" fill="#1a3f72" stroke="#12305a" stroke-width="0.45"/>
<line x1="321.50" y1="107.50" x2="324.50" y2="107.50" stroke="#1e1e1e" stroke-width="0.9" />
<text transform="translate(317.80 109.31) scale(0.92 1)" font-size="6.41" fill="#262626" stroke="#262626" stroke-width="0.08" text-anchor="end" >Metabolic disorders</text>
<line x1="357.00" y1="107.50" x2="393.30" y2="107.50" stroke="#2c4a70" stroke-width="0.95" />
<circle cx="375.00" cy="107.50" r="2.6" fill="#1a3f72" stroke="#12305a" stroke-width="0.45"/>
<line x1="321.50" y1="116.50" x2="324.50" y2="116.50" stroke="#1e1e1e" stroke-width="0.9" />
<text transform="translate(317.80 118.31) scale(0.92 1)" font-size="6.41" fill="#262626" stroke="#262626" stroke-width="0.08" text-anchor="end" >Other disease</text>
<line x1="365.80" y1="116.50" x2="487.00" y2="116.50" stroke="#4d3a5c" stroke-width="0.95" />
<circle cx="426.50" cy="116.50" r="2.6" fill="#52226a" stroke="#3a1550" stroke-width="0.45"/>
<text transform="translate(419.05 136.01) scale(0.92 1)" font-size="6.41" fill="#262626" stroke="#262626" stroke-width="0.08" text-anchor="middle" >Disease status</text>
<line x1="396.30" y1="137.20" x2="396.30" y2="209.30" stroke="#262626" stroke-width="1.0" stroke-dasharray="4.9 3.8" stroke-dashoffset="3.2"/>
<line x1="324.50" y1="137.20" x2="324.50" y2="209.80" stroke="#1e1e1e" stroke-width="1.0" />
<line x1="324.00" y1="209.30" x2="513.20" y2="209.30" stroke="#1e1e1e" stroke-width="1.1" />
<line x1="321.50" y1="142.50" x2="324.50" y2="142.50" stroke="#1e1e1e" stroke-width="0.9" />
<text transform="translate(317.80 145.01) scale(0.92 1)" font-size="6.41" fill="#262626" stroke="#262626" stroke-width="0.08" text-anchor="end" >CR1</text>
<circle cx="396.30" cy="142.80" r="2.7" fill="#48a848" stroke="#2a6e2a" stroke-width="0.55"/>
<line x1="396.30" y1="139.20" x2="396.30" y2="146.40" stroke="#1e3a1e" stroke-width="0.9" stroke-opacity="0.55"/>
<line x1="321.50" y1="153.50" x2="324.50" y2="153.50" stroke="#1e1e1e" stroke-width="0.9" />
<text transform="translate(317.80 155.21) scale(0.92 1)" font-size="6.41" fill="#262626" stroke="#262626" stroke-width="0.08" text-anchor="end" >CR2</text>
<line x1="392.50" y1="153.50" x2="414.50" y2="153.50" stroke="#4d3a5c" stroke-width="0.95" />
<circle cx="403.80" cy="153.50" r="2.6" fill="#52226a" stroke="#3a1550" stroke-width="0.45"/>
<line x1="321.50" y1="163.50" x2="324.50" y2="163.50" stroke="#1e1e1e" stroke-width="0.9" />
<text transform="translate(317.80 165.51) scale(0.92 1)" font-size="6.41" fill="#262626" stroke="#262626" stroke-width="0.08" text-anchor="end" >CR3+</text>
<line x1="351.80" y1="163.50" x2="395.80" y2="163.50" stroke="#4d3a5c" stroke-width="0.95" />
<circle cx="374.50" cy="163.50" r="2.6" fill="#52226a" stroke="#3a1550" stroke-width="0.45"/>
<line x1="321.50" y1="173.50" x2="324.50" y2="173.50" stroke="#1e1e1e" stroke-width="0.9" />
<text transform="translate(317.80 175.51) scale(0.92 1)" font-size="6.41" fill="#262626" stroke="#262626" stroke-width="0.08" text-anchor="end" >PIF</text>
<line x1="365.00" y1="173.50" x2="409.50" y2="173.50" stroke="#4d3a5c" stroke-width="0.95" />
<circle cx="387.50" cy="173.50" r="2.6" fill="#52226a" stroke="#3a1550" stroke-width="0.45"/>
<line x1="321.50" y1="183.50" x2="324.50" y2="183.50" stroke="#1e1e1e" stroke-width="0.9" />
<text transform="translate(317.80 186.01) scale(0.92 1)" font-size="6.41" fill="#262626" stroke="#262626" stroke-width="0.08" text-anchor="end" >Relapse</text>
<line x1="410.80" y1="183.50" x2="452.00" y2="183.50" stroke="#b01e36" stroke-width="0.95" />
<circle cx="431.40" cy="183.50" r="2.6" fill="#c0112d" stroke="#8e0a20" stroke-width="0.45"/>
<line x1="321.50" y1="194.50" x2="324.50" y2="194.50" stroke="#1e1e1e" stroke-width="0.9" />
<text transform="translate(317.80 192.86) scale(0.92 1)" font-size="6.41" fill="#262626" stroke="#262626" stroke-width="0.08" text-anchor="end" >Malignant disease not classified</text>
<text transform="translate(317.80 199.56) scale(0.92 1)" font-size="6.41" fill="#262626" stroke="#262626" stroke-width="0.08" text-anchor="end" >as CR1, 2, 3</text>
<line x1="379.30" y1="194.50" x2="403.30" y2="194.50" stroke="#4d3a5c" stroke-width="0.95" />
<circle cx="391.30" cy="194.50" r="2.6" fill="#52226a" stroke="#3a1550" stroke-width="0.45"/>
<line x1="321.50" y1="204.50" x2="324.50" y2="204.50" stroke="#1e1e1e" stroke-width="0.9" />
<text transform="translate(317.80 206.41) scale(0.92 1)" font-size="6.41" fill="#262626" stroke="#262626" stroke-width="0.08" text-anchor="end" >Missing</text>
<line x1="366.80" y1="204.50" x2="411.30" y2="204.50" stroke="#4d3a5c" stroke-width="0.95" />
<circle cx="389.00" cy="204.50" r="2.6" fill="#52226a" stroke="#3a1550" stroke-width="0.45"/>
<text transform="translate(419.05 224.21) scale(0.92 1)" font-size="6.41" fill="#262626" stroke="#262626" stroke-width="0.08" text-anchor="middle" >Graft type</text>
<line x1="396.30" y1="226.50" x2="396.30" y2="253.70" stroke="#262626" stroke-width="1.0" stroke-dasharray="4.9 3.8" stroke-dashoffset="3.2"/>
<line x1="324.50" y1="226.50" x2="324.50" y2="254.20" stroke="#1e1e1e" stroke-width="1.0" />
<line x1="324.00" y1="253.70" x2="513.20" y2="253.70" stroke="#1e1e1e" stroke-width="1.1" />
<line x1="321.50" y1="231.50" x2="324.50" y2="231.50" stroke="#1e1e1e" stroke-width="0.9" />
<text transform="translate(317.80 233.21) scale(0.92 1)" font-size="6.41" fill="#262626" stroke="#262626" stroke-width="0.08" text-anchor="end" >BM</text>
<circle cx="396.30" cy="231.00" r="2.7" fill="#48a848" stroke="#2a6e2a" stroke-width="0.55"/>
<line x1="396.30" y1="227.40" x2="396.30" y2="234.60" stroke="#1e3a1e" stroke-width="0.9" stroke-opacity="0.55"/>
<line x1="321.50" y1="239.50" x2="324.50" y2="239.50" stroke="#1e1e1e" stroke-width="0.9" />
<text transform="translate(317.80 242.01) scale(0.92 1)" font-size="6.41" fill="#262626" stroke="#262626" stroke-width="0.08" text-anchor="end" >PBSC</text>
<line x1="398.80" y1="239.50" x2="417.50" y2="239.50" stroke="#b01e36" stroke-width="0.95" />
<circle cx="407.50" cy="239.50" r="2.6" fill="#c0112d" stroke="#8e0a20" stroke-width="0.45"/>
<line x1="321.50" y1="248.50" x2="324.50" y2="248.50" stroke="#1e1e1e" stroke-width="0.9" />
<text transform="translate(317.80 250.81) scale(0.92 1)" font-size="6.41" fill="#262626" stroke="#262626" stroke-width="0.08" text-anchor="end" >Cord blood</text>
<line x1="400.00" y1="248.50" x2="422.50" y2="248.50" stroke="#b01e36" stroke-width="0.95" />
<circle cx="411.00" cy="248.50" r="2.6" fill="#c0112d" stroke="#8e0a20" stroke-width="0.45"/>
<text transform="translate(419.05 268.51) scale(0.92 1)" font-size="6.41" fill="#262626" stroke="#262626" stroke-width="0.08" text-anchor="middle" >Donor (BM and PBSC only)</text>
<line x1="396.30" y1="270.80" x2="396.30" y2="315.40" stroke="#262626" stroke-width="1.0" stroke-dasharray="4.9 3.8" stroke-dashoffset="3.2"/>
<line x1="324.50" y1="270.80" x2="324.50" y2="315.90" stroke="#1e1e1e" stroke-width="1.0" />
<line x1="324.00" y1="315.40" x2="513.20" y2="315.40" stroke="#1e1e1e" stroke-width="1.1" />
<line x1="321.50" y1="275.50" x2="324.50" y2="275.50" stroke="#1e1e1e" stroke-width="0.9" />
<text transform="translate(317.80 277.31) scale(0.92 1)" font-size="6.41" fill="#262626" stroke="#262626" stroke-width="0.08" text-anchor="end" >HLA–matched sib</text>
<circle cx="396.30" cy="275.10" r="2.7" fill="#48a848" stroke="#2a6e2a" stroke-width="0.55"/>
<line x1="396.30" y1="271.50" x2="396.30" y2="278.70" stroke="#1e3a1e" stroke-width="0.9" stroke-opacity="0.55"/>
<line x1="321.50" y1="284.50" x2="324.50" y2="284.50" stroke="#1e1e1e" stroke-width="0.9" />
<text transform="translate(317.80 286.21) scale(0.92 1)" font-size="6.41" fill="#262626" stroke="#262626" stroke-width="0.08" text-anchor="end" >Other related</text>
<line x1="398.30" y1="284.50" x2="427.50" y2="284.50" stroke="#b01e36" stroke-width="0.95" />
<circle cx="413.00" cy="284.50" r="2.6" fill="#c0112d" stroke="#8e0a20" stroke-width="0.45"/>
<line x1="321.50" y1="292.50" x2="324.50" y2="292.50" stroke="#1e1e1e" stroke-width="0.9" />
<text transform="translate(317.80 295.01) scale(0.92 1)" font-size="6.41" fill="#262626" stroke="#262626" stroke-width="0.08" text-anchor="end" >Well matched URD</text>
<line x1="398.30" y1="292.50" x2="420.50" y2="292.50" stroke="#b01e36" stroke-width="0.95" />
<circle cx="409.50" cy="292.50" r="2.6" fill="#c0112d" stroke="#8e0a20" stroke-width="0.45"/>
<line x1="321.50" y1="301.50" x2="324.50" y2="301.50" stroke="#1e1e1e" stroke-width="0.9" />
<text transform="translate(317.80 303.81) scale(0.92 1)" font-size="6.41" fill="#262626" stroke="#262626" stroke-width="0.08" text-anchor="end" >Partially matched/mismatched URD</text>
<line x1="412.00" y1="301.50" x2="436.30" y2="301.50" stroke="#b01e36" stroke-width="0.95" />
<circle cx="424.50" cy="301.50" r="2.6" fill="#c0112d" stroke="#8e0a20" stroke-width="0.45"/>
<line x1="321.50" y1="310.50" x2="324.50" y2="310.50" stroke="#1e1e1e" stroke-width="0.9" />
<text transform="translate(317.80 312.61) scale(0.92 1)" font-size="6.41" fill="#262626" stroke="#262626" stroke-width="0.08" text-anchor="end" >URD, match unknown</text>
<line x1="388.30" y1="310.50" x2="475.50" y2="310.50" stroke="#4d3a5c" stroke-width="0.95" />
<circle cx="432.50" cy="310.50" r="2.6" fill="#52226a" stroke="#3a1550" stroke-width="0.45"/>
<text transform="translate(419.05 329.21) scale(0.92 1)" font-size="6.41" fill="#262626" stroke="#262626" stroke-width="0.08" text-anchor="middle" >Recipient CMV</text>
<line x1="396.30" y1="333.00" x2="396.30" y2="359.70" stroke="#262626" stroke-width="1.0" stroke-dasharray="4.9 3.8" stroke-dashoffset="3.2"/>
<line x1="324.50" y1="333.00" x2="324.50" y2="360.20" stroke="#1e1e1e" stroke-width="1.0" />
<line x1="324.00" y1="359.70" x2="513.20" y2="359.70" stroke="#1e1e1e" stroke-width="1.1" />
<line x1="321.50" y1="337.50" x2="324.50" y2="337.50" stroke="#1e1e1e" stroke-width="0.9" />
<text transform="translate(317.80 339.41) scale(0.92 1)" font-size="6.41" fill="#262626" stroke="#262626" stroke-width="0.08" text-anchor="end" >Negative</text>
<circle cx="396.30" cy="337.20" r="2.7" fill="#48a848" stroke="#2a6e2a" stroke-width="0.55"/>
<line x1="396.30" y1="333.60" x2="396.30" y2="340.80" stroke="#1e3a1e" stroke-width="0.9" stroke-opacity="0.55"/>
<line x1="321.50" y1="346.50" x2="324.50" y2="346.50" stroke="#1e1e1e" stroke-width="0.9" />
<text transform="translate(317.80 348.21) scale(0.92 1)" font-size="6.41" fill="#262626" stroke="#262626" stroke-width="0.08" text-anchor="end" >Positive</text>
<line x1="402.50" y1="346.50" x2="417.50" y2="346.50" stroke="#b01e36" stroke-width="0.95" />
<circle cx="410.00" cy="346.50" r="2.6" fill="#c0112d" stroke="#8e0a20" stroke-width="0.45"/>
<line x1="321.50" y1="354.50" x2="324.50" y2="354.50" stroke="#1e1e1e" stroke-width="0.9" />
<text transform="translate(317.80 356.91) scale(0.92 1)" font-size="6.41" fill="#262626" stroke="#262626" stroke-width="0.08" text-anchor="end" >Unknown</text>
<line x1="380.50" y1="354.50" x2="439.30" y2="354.50" stroke="#4d3a5c" stroke-width="0.95" />
<circle cx="409.50" cy="354.50" r="2.6" fill="#52226a" stroke="#3a1550" stroke-width="0.45"/>
<text transform="translate(419.05 374.21) scale(0.92 1)" font-size="6.41" fill="#262626" stroke="#262626" stroke-width="0.08" text-anchor="middle" >Time from HCT to PICU (days)</text>
<line x1="396.30" y1="376.80" x2="396.30" y2="412.90" stroke="#262626" stroke-width="1.0" stroke-dasharray="4.9 3.8" stroke-dashoffset="3.2"/>
<line x1="324.50" y1="376.80" x2="324.50" y2="413.40" stroke="#1e1e1e" stroke-width="1.0" />
<line x1="324.00" y1="412.90" x2="513.20" y2="412.90" stroke="#1e1e1e" stroke-width="1.1" />
<line x1="321.50" y1="381.50" x2="324.50" y2="381.50" stroke="#1e1e1e" stroke-width="0.9" />
<text transform="translate(317.80 384.01) scale(0.92 1)" font-size="6.41" fill="#262626" stroke="#262626" stroke-width="0.08" text-anchor="end" >0–29</text>
<circle cx="396.30" cy="381.80" r="2.7" fill="#48a848" stroke="#2a6e2a" stroke-width="0.55"/>
<line x1="396.30" y1="378.20" x2="396.30" y2="385.40" stroke="#1e3a1e" stroke-width="0.9" stroke-opacity="0.55"/>
<line x1="321.50" y1="390.50" x2="324.50" y2="390.50" stroke="#1e1e1e" stroke-width="0.9" />
<text transform="translate(317.80 392.41) scale(0.92 1)" font-size="6.41" fill="#262626" stroke="#262626" stroke-width="0.08" text-anchor="end" >30–99</text>
<line x1="398.30" y1="390.50" x2="416.30" y2="390.50" stroke="#b01e36" stroke-width="0.95" />
<circle cx="407.00" cy="390.50" r="2.6" fill="#c0112d" stroke="#8e0a20" stroke-width="0.45"/>
<line x1="321.50" y1="398.50" x2="324.50" y2="398.50" stroke="#1e1e1e" stroke-width="0.9" />
<text transform="translate(317.80 400.91) scale(0.92 1)" font-size="6.41" fill="#262626" stroke="#262626" stroke-width="0.08" text-anchor="end" >100–364</text>
<line x1="393.80" y1="398.50" x2="412.00" y2="398.50" stroke="#4d3a5c" stroke-width="0.95" />
<circle cx="402.50" cy="398.50" r="2.6" fill="#52226a" stroke="#3a1550" stroke-width="0.45"/>
<line x1="321.50" y1="407.50" x2="324.50" y2="407.50" stroke="#1e1e1e" stroke-width="0.9" />
<text transform="translate(317.80 409.91) scale(0.92 1)" font-size="6.41" fill="#262626" stroke="#262626" stroke-width="0.08" text-anchor="end" >365+</text>
<line x1="377.50" y1="407.50" x2="401.30" y2="407.50" stroke="#4d3a5c" stroke-width="0.95" />
<circle cx="389.30" cy="407.50" r="2.6" fill="#52226a" stroke="#3a1550" stroke-width="0.45"/>
<text transform="translate(419.05 427.51) scale(0.92 1)" font-size="6.41" fill="#262626" stroke="#262626" stroke-width="0.08" text-anchor="middle" >PRISM–3 Score</text>
<line x1="396.30" y1="430.00" x2="396.30" y2="474.80" stroke="#262626" stroke-width="1.0" stroke-dasharray="4.9 3.8" stroke-dashoffset="3.2"/>
<line x1="324.50" y1="430.00" x2="324.50" y2="475.30" stroke="#1e1e1e" stroke-width="1.0" />
<line x1="324.00" y1="474.80" x2="513.20" y2="474.80" stroke="#1e1e1e" stroke-width="1.1" />
<line x1="321.50" y1="434.50" x2="324.50" y2="434.50" stroke="#1e1e1e" stroke-width="0.9" />
<text transform="translate(317.80 436.71) scale(0.92 1)" font-size="6.41" fill="#262626" stroke="#262626" stroke-width="0.08" text-anchor="end" >0–10</text>
<circle cx="396.30" cy="434.50" r="2.7" fill="#48a848" stroke="#2a6e2a" stroke-width="0.55"/>
<line x1="396.30" y1="430.90" x2="396.30" y2="438.10" stroke="#1e3a1e" stroke-width="0.9" stroke-opacity="0.55"/>
<line x1="321.50" y1="443.50" x2="324.50" y2="443.50" stroke="#1e1e1e" stroke-width="0.9" />
<text transform="translate(317.80 445.61) scale(0.92 1)" font-size="6.41" fill="#262626" stroke="#262626" stroke-width="0.08" text-anchor="end" >11–20</text>
<line x1="402.00" y1="443.50" x2="417.50" y2="443.50" stroke="#b01e36" stroke-width="0.95" />
<circle cx="409.50" cy="443.50" r="2.6" fill="#c0112d" stroke="#8e0a20" stroke-width="0.45"/>
<line x1="321.50" y1="452.50" x2="324.50" y2="452.50" stroke="#1e1e1e" stroke-width="0.9" />
<text transform="translate(317.80 454.21) scale(0.92 1)" font-size="6.41" fill="#262626" stroke="#262626" stroke-width="0.08" text-anchor="end" >21–30</text>
<line x1="400.00" y1="452.50" x2="429.50" y2="452.50" stroke="#b01e36" stroke-width="0.95" />
<circle cx="414.50" cy="452.50" r="2.6" fill="#c0112d" stroke="#8e0a20" stroke-width="0.45"/>
<line x1="321.50" y1="460.50" x2="324.50" y2="460.50" stroke="#1e1e1e" stroke-width="0.9" />
<text transform="translate(317.80 462.91) scale(0.92 1)" font-size="6.41" fill="#262626" stroke="#262626" stroke-width="0.08" text-anchor="end" >30+</text>
<line x1="430.80" y1="460.50" x2="475.00" y2="460.50" stroke="#b01e36" stroke-width="0.95" />
<circle cx="452.50" cy="460.50" r="2.6" fill="#c0112d" stroke="#8e0a20" stroke-width="0.45"/>
<line x1="321.50" y1="469.50" x2="324.50" y2="469.50" stroke="#1e1e1e" stroke-width="0.9" />
<text transform="translate(317.80 471.81) scale(0.92 1)" font-size="6.41" fill="#262626" stroke="#262626" stroke-width="0.08" text-anchor="end" >Missing</text>
<line x1="383.00" y1="469.50" x2="413.80" y2="469.50" stroke="#4d3a5c" stroke-width="0.95" />
<circle cx="398.00" cy="469.50" r="2.6" fill="#52226a" stroke="#3a1550" stroke-width="0.45"/>
<text transform="translate(419.05 489.01) scale(0.92 1)" font-size="6.41" fill="#262626" stroke="#262626" stroke-width="0.08" text-anchor="middle" >Relapse prior to PICU</text>
<line x1="396.30" y1="492.00" x2="396.30" y2="518.90" stroke="#262626" stroke-width="1.0" stroke-dasharray="4.9 3.8" stroke-dashoffset="3.2"/>
<line x1="324.50" y1="492.00" x2="324.50" y2="519.40" stroke="#1e1e1e" stroke-width="1.0" />
<line x1="324.00" y1="518.90" x2="513.20" y2="518.90" stroke="#1e1e1e" stroke-width="1.1" />
<line x1="321.50" y1="496.50" x2="324.50" y2="496.50" stroke="#1e1e1e" stroke-width="0.9" />
<text transform="translate(317.80 498.51) scale(0.92 1)" font-size="6.41" fill="#262626" stroke="#262626" stroke-width="0.08" text-anchor="end" >No</text>
<circle cx="396.30" cy="496.30" r="2.7" fill="#48a848" stroke="#2a6e2a" stroke-width="0.55"/>
<line x1="396.30" y1="492.70" x2="396.30" y2="499.90" stroke="#1e3a1e" stroke-width="0.9" stroke-opacity="0.55"/>
<line x1="321.50" y1="505.50" x2="324.50" y2="505.50" stroke="#1e1e1e" stroke-width="0.9" />
<text transform="translate(317.80 507.31) scale(0.92 1)" font-size="6.41" fill="#262626" stroke="#262626" stroke-width="0.08" text-anchor="end" >Yes</text>
<line x1="405.50" y1="505.50" x2="429.30" y2="505.50" stroke="#b01e36" stroke-width="0.95" />
<circle cx="417.00" cy="505.50" r="2.6" fill="#c0112d" stroke="#8e0a20" stroke-width="0.45"/>
<line x1="321.50" y1="514.50" x2="324.50" y2="514.50" stroke="#1e1e1e" stroke-width="0.9" />
<text transform="translate(317.80 516.21) scale(0.92 1)" font-size="6.41" fill="#262626" stroke="#262626" stroke-width="0.08" text-anchor="end" >Missing</text>
<line x1="380.50" y1="514.50" x2="420.50" y2="514.50" stroke="#4d3a5c" stroke-width="0.95" />
<circle cx="400.00" cy="514.50" r="2.6" fill="#52226a" stroke="#3a1550" stroke-width="0.45"/>
<text transform="translate(419.05 533.71) scale(0.92 1)" font-size="6.41" fill="#262626" stroke="#262626" stroke-width="0.08" text-anchor="middle" >Invasive ventilation during PICU</text>
<line x1="396.30" y1="535.80" x2="396.30" y2="554.60" stroke="#262626" stroke-width="1.0" stroke-dasharray="4.9 3.8" stroke-dashoffset="3.2"/>
<line x1="324.50" y1="535.80" x2="324.50" y2="555.10" stroke="#1e1e1e" stroke-width="1.0" />
<line x1="324.00" y1="554.60" x2="513.20" y2="554.60" stroke="#1e1e1e" stroke-width="1.1" />
<line x1="321.50" y1="541.50" x2="324.50" y2="541.50" stroke="#1e1e1e" stroke-width="0.9" />
<text transform="translate(317.80 543.21) scale(0.92 1)" font-size="6.41" fill="#262626" stroke="#262626" stroke-width="0.08" text-anchor="end" >No</text>
<circle cx="396.30" cy="541.00" r="2.7" fill="#48a848" stroke="#2a6e2a" stroke-width="0.55"/>
<line x1="396.30" y1="537.40" x2="396.30" y2="544.60" stroke="#1e3a1e" stroke-width="0.9" stroke-opacity="0.55"/>
<line x1="321.50" y1="549.50" x2="324.50" y2="549.50" stroke="#1e1e1e" stroke-width="0.9" />
<text transform="translate(317.80 551.81) scale(0.92 1)" font-size="6.41" fill="#262626" stroke="#262626" stroke-width="0.08" text-anchor="end" >Yes</text>
<line x1="408.80" y1="549.50" x2="425.00" y2="549.50" stroke="#b01e36" stroke-width="0.95" />
<circle cx="416.80" cy="549.50" r="2.6" fill="#c0112d" stroke="#8e0a20" stroke-width="0.45"/>
<text transform="translate(419.05 568.01) scale(0.92 1)" font-size="6.41" fill="#262626" stroke="#262626" stroke-width="0.08" text-anchor="middle" >Non–invasive ventilation during PICU</text>
<line x1="396.30" y1="578.80" x2="396.30" y2="598.10" stroke="#262626" stroke-width="1.0" stroke-dasharray="4.9 3.8" stroke-dashoffset="3.2"/>
<line x1="324.50" y1="578.80" x2="324.50" y2="598.60" stroke="#1e1e1e" stroke-width="1.0" />
<line x1="324.00" y1="598.10" x2="513.20" y2="598.10" stroke="#1e1e1e" stroke-width="1.1" />
<line x1="321.50" y1="583.50" x2="324.50" y2="583.50" stroke="#1e1e1e" stroke-width="0.9" />
<text transform="translate(317.80 586.01) scale(0.92 1)" font-size="6.41" fill="#262626" stroke="#262626" stroke-width="0.08" text-anchor="end" >No</text>
<circle cx="396.30" cy="583.80" r="2.7" fill="#48a848" stroke="#2a6e2a" stroke-width="0.55"/>
<line x1="396.30" y1="580.20" x2="396.30" y2="587.40" stroke="#1e3a1e" stroke-width="0.9" stroke-opacity="0.55"/>
<line x1="321.50" y1="592.50" x2="324.50" y2="592.50" stroke="#1e1e1e" stroke-width="0.9" />
<text transform="translate(317.80 594.71) scale(0.92 1)" font-size="6.41" fill="#262626" stroke="#262626" stroke-width="0.08" text-anchor="end" >Yes</text>
<line x1="401.30" y1="592.50" x2="419.50" y2="592.50" stroke="#b01e36" stroke-width="0.95" />
<circle cx="410.50" cy="592.50" r="2.6" fill="#c0112d" stroke="#8e0a20" stroke-width="0.45"/>
<text transform="translate(419.05 612.21) scale(0.92 1)" font-size="6.41" fill="#262626" stroke="#262626" stroke-width="0.08" text-anchor="middle" >Renal replacement therapy during PICU</text>
<line x1="396.30" y1="615.00" x2="396.30" y2="633.10" stroke="#262626" stroke-width="1.0" stroke-dasharray="4.9 3.8" stroke-dashoffset="3.2"/>
<line x1="324.50" y1="615.00" x2="324.50" y2="633.60" stroke="#1e1e1e" stroke-width="1.0" />
<line x1="324.00" y1="633.10" x2="513.20" y2="633.10" stroke="#1e1e1e" stroke-width="1.1" />
<line x1="321.50" y1="619.50" x2="324.50" y2="619.50" stroke="#1e1e1e" stroke-width="0.9" />
<text transform="translate(317.80 621.61) scale(0.92 1)" font-size="6.41" fill="#262626" stroke="#262626" stroke-width="0.08" text-anchor="end" >No</text>
<circle cx="396.30" cy="619.40" r="2.7" fill="#48a848" stroke="#2a6e2a" stroke-width="0.55"/>
<line x1="396.30" y1="615.80" x2="396.30" y2="623.00" stroke="#1e3a1e" stroke-width="0.9" stroke-opacity="0.55"/>
<line x1="321.50" y1="628.50" x2="324.50" y2="628.50" stroke="#1e1e1e" stroke-width="0.9" />
<text transform="translate(317.80 630.41) scale(0.92 1)" font-size="6.41" fill="#262626" stroke="#262626" stroke-width="0.08" text-anchor="end" >Yes</text>
<line x1="402.50" y1="628.50" x2="423.30" y2="628.50" stroke="#b01e36" stroke-width="0.95" />
<circle cx="413.30" cy="628.50" r="2.6" fill="#c0112d" stroke="#8e0a20" stroke-width="0.45"/>
<text transform="translate(223.00 21.51) scale(0.92 1)" font-size="6.41" fill="#262626" stroke="#262626" stroke-width="0.08" font-style="italic" >Pre-Transplant</text>
<text transform="translate(223.00 28.71) scale(0.92 1)" font-size="6.41" fill="#262626" stroke="#262626" stroke-width="0.08" font-style="italic" >Variables:</text>
<text transform="translate(223.60 223.61) scale(0.92 1)" font-size="6.41" fill="#262626" stroke="#262626" stroke-width="0.08" font-style="italic" >Transplant</text>
<text transform="translate(223.60 230.71) scale(0.92 1)" font-size="6.41" fill="#262626" stroke="#262626" stroke-width="0.08" font-style="italic" >Variables:</text>
<text transform="translate(223.60 374.01) scale(0.92 1)" font-size="6.41" fill="#262626" stroke="#262626" stroke-width="0.08" font-style="italic" >Post-Transplant</text>
<text transform="translate(223.60 381.21) scale(0.92 1)" font-size="6.41" fill="#262626" stroke="#262626" stroke-width="0.08" font-style="italic" >Variables:</text>
<line x1="344.27" y1="633.10" x2="344.27" y2="635.70" stroke="#1e1e1e" stroke-width="0.9" />
<text transform="translate(344.27 645.21) scale(0.92 1)" font-size="6.41" fill="#262626" stroke="#262626" stroke-width="0.08" text-anchor="middle" >0.3</text>
<line x1="396.30" y1="633.10" x2="396.30" y2="635.70" stroke="#1e1e1e" stroke-width="0.9" />
<text transform="translate(396.30 645.21) scale(0.92 1)" font-size="6.41" fill="#262626" stroke="#262626" stroke-width="0.08" text-anchor="middle" >1.0</text>
<line x1="443.77" y1="633.10" x2="443.77" y2="635.70" stroke="#1e1e1e" stroke-width="0.9" />
<text transform="translate(443.77 645.21) scale(0.92 1)" font-size="6.41" fill="#262626" stroke="#262626" stroke-width="0.08" text-anchor="middle" >3.0</text>
<line x1="495.80" y1="633.10" x2="495.80" y2="635.70" stroke="#1e1e1e" stroke-width="0.9" />
<text transform="translate(495.80 645.21) scale(0.92 1)" font-size="6.41" fill="#262626" stroke="#262626" stroke-width="0.08" text-anchor="middle" >10.0</text>
<text x="418.80" y="654.39" font-size="8.1" font-weight="bold" fill="#333" text-anchor="middle" textLength="55" lengthAdjust="spacingAndGlyphs">Hazard ratio (95% CI)</text>
<rect x="0.5" y="0.5" width="519" height="662" fill="none" stroke="#666" stroke-width="1"/>
</svg>
</body></html>
